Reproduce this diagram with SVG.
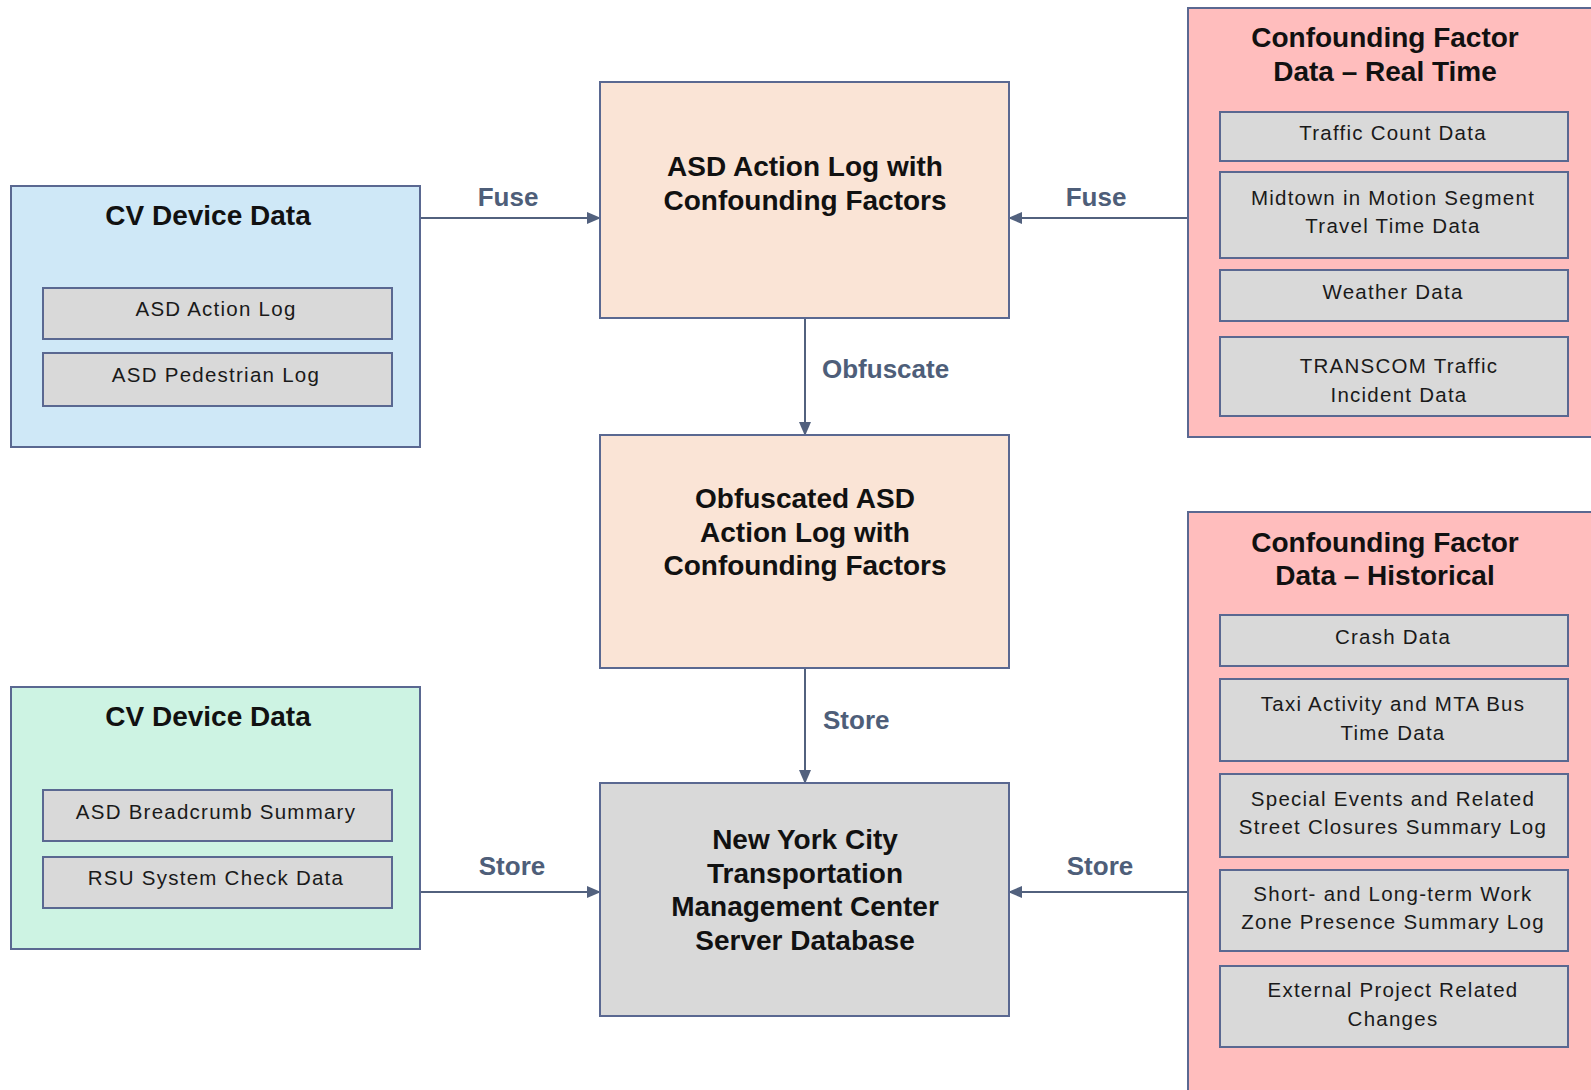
<svg xmlns="http://www.w3.org/2000/svg" width="1591" height="1090" viewBox="0 0 1591 1090">
<style>
.box{stroke:#5a6891;stroke-width:2}
.blue{fill:#cfe8f7}
.green{fill:#cdf3e3}
.peach{fill:#fae4d6}
.pink{fill:#ffbdbd}
.gray{fill:#d9d9d9}
.title{font-family:"Liberation Sans",Arial,sans-serif;font-weight:bold;font-size:28px;fill:#111;text-anchor:middle}
.item{font-family:"Liberation Sans",Arial,sans-serif;font-size:20.5px;fill:#1a1a1a;text-anchor:middle;letter-spacing:1.25px}
.lbl{font-family:"Liberation Sans",Arial,sans-serif;font-weight:bold;font-size:26px;fill:#4e5e79}
.conn{stroke:#52617e;stroke-width:2;fill:none}
</style>
<defs>
<marker id="ah" markerWidth="14" markerHeight="12" refX="13" refY="6" orient="auto" markerUnits="userSpaceOnUse">
<path d="M0,0 L14,6 L0,12 Z" fill="#52617e"/>
</marker>
</defs>
<rect width="1591" height="1090" fill="#ffffff"/>

<g id="connectors">
<line class="conn" x1="420" y1="218" x2="600" y2="218" marker-end="url(#ah)"/>
<line class="conn" x1="1188" y1="218" x2="1009" y2="218" marker-end="url(#ah)"/>
<line class="conn" x1="805" y1="318" x2="805" y2="435" marker-end="url(#ah)"/>
<line class="conn" x1="805" y1="668" x2="805" y2="783" marker-end="url(#ah)"/>
<line class="conn" x1="420" y1="892" x2="600" y2="892" marker-end="url(#ah)"/>
<line class="conn" x1="1188" y1="892" x2="1009" y2="892" marker-end="url(#ah)"/>
<text class="lbl" x="508" y="206" text-anchor="middle">Fuse</text>
<text class="lbl" x="1096" y="206" text-anchor="middle">Fuse</text>
<text class="lbl" x="822" y="378">Obfuscate</text>
<text class="lbl" x="823" y="729">Store</text>
<text class="lbl" x="512" y="875" text-anchor="middle">Store</text>
<text class="lbl" x="1100" y="875" text-anchor="middle">Store</text>
</g>

<g id="cv-device-data-1">
<rect class="box blue" x="11" y="186" width="409" height="261"/>
<text class="title" x="208" y="225">CV Device Data</text>
<g id="asd-action-log">
<rect class="box gray" x="43" y="288" width="349" height="51"/>
<text class="item" x="216" y="316">ASD Action Log</text>
</g>
<g id="asd-pedestrian-log">
<rect class="box gray" x="43" y="353" width="349" height="53"/>
<text class="item" x="216" y="382">ASD Pedestrian Log</text>
</g>
</g>

<g id="cv-device-data-2">
<rect class="box green" x="11" y="687" width="409" height="262"/>
<text class="title" x="208" y="726">CV Device Data</text>
<g id="asd-breadcrumb-summary">
<rect class="box gray" x="43" y="790" width="349" height="51"/>
<text class="item" x="216" y="819">ASD Breadcrumb Summary</text>
</g>
<g id="rsu-system-check-data">
<rect class="box gray" x="43" y="857" width="349" height="51"/>
<text class="item" x="216" y="885">RSU System Check Data</text>
</g>
</g>

<g id="asd-action-log-cf">
<rect class="box peach" x="600" y="82" width="409" height="236"/>
<text class="title" x="805" y="176">ASD Action Log with</text>
<text class="title" x="805" y="210">Confounding Factors</text>
</g>

<g id="obfuscated-log">
<rect class="box peach" x="600" y="435" width="409" height="233"/>
<text class="title" x="805" y="508">Obfuscated ASD</text>
<text class="title" x="805" y="542">Action Log with</text>
<text class="title" x="805" y="575">Confounding Factors</text>
</g>

<g id="nyc-tmc-db">
<rect class="box gray" x="600" y="783" width="409" height="233"/>
<text class="title" x="805" y="849">New York City</text>
<text class="title" x="805" y="883">Transportation</text>
<text class="title" x="805" y="916">Management Center</text>
<text class="title" x="805" y="950">Server Database</text>
</g>

<g id="cf-real-time">
<rect class="box pink" x="1188" y="8" width="420" height="429"/>
<text class="title" x="1385" y="47">Confounding Factor</text>
<text class="title" x="1385" y="81">Data – Real Time</text>
<g id="traffic-count">
<rect class="box gray" x="1220" y="112" width="348" height="49"/>
<text class="item" x="1393" y="140">Traffic Count Data</text>
</g>
<g id="midtown">
<rect class="box gray" x="1220" y="172" width="348" height="86"/>
<text class="item" x="1393" y="205">Midtown in Motion Segment</text>
<text class="item" x="1393" y="233">Travel Time Data</text>
</g>
<g id="weather">
<rect class="box gray" x="1220" y="270" width="348" height="51"/>
<text class="item" x="1393" y="299">Weather Data</text>
</g>
<g id="transcom">
<rect class="box gray" x="1220" y="337" width="348" height="79"/>
<text class="item" x="1399" y="373">TRANSCOM Traffic</text>
<text class="item" x="1399" y="402">Incident Data</text>
</g>
</g>

<g id="cf-historical">
<rect class="box pink" x="1188" y="512" width="420" height="600"/>
<text class="title" x="1385" y="552">Confounding Factor</text>
<text class="title" x="1385" y="585">Data – Historical</text>
<g id="crash">
<rect class="box gray" x="1220" y="615" width="348" height="51"/>
<text class="item" x="1393" y="644">Crash Data</text>
</g>
<g id="taxi">
<rect class="box gray" x="1220" y="679" width="348" height="82"/>
<text class="item" x="1393" y="711">Taxi Activity and MTA Bus</text>
<text class="item" x="1393" y="740">Time Data</text>
</g>
<g id="special-events">
<rect class="box gray" x="1220" y="774" width="348" height="83"/>
<text class="item" x="1393" y="806">Special Events and Related</text>
<text class="item" x="1393" y="834">Street Closures Summary Log</text>
</g>
<g id="work-zone">
<rect class="box gray" x="1220" y="870" width="348" height="81"/>
<text class="item" x="1393" y="901">Short- and Long-term Work</text>
<text class="item" x="1393" y="929">Zone Presence Summary Log</text>
</g>
<g id="external-project">
<rect class="box gray" x="1220" y="966" width="348" height="81"/>
<text class="item" x="1393" y="997">External Project Related</text>
<text class="item" x="1393" y="1026">Changes</text>
</g>
</g>
</svg>
